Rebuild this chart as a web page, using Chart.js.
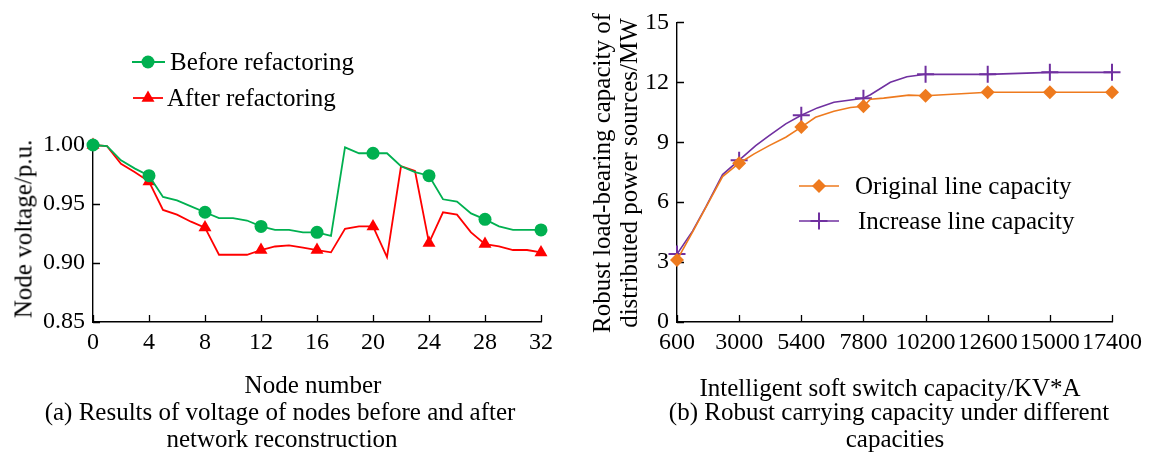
<!DOCTYPE html>
<html>
<head>
<meta charset="utf-8">
<script src="https://cdn.jsdelivr.net/npm/chart.js@4/dist/chart.umd.min.js"></script>
<style>
  html, body { margin: 0; padding: 0; background: #fff; }
  #wrap { position: relative; width: 1159px; height: 453px; overflow: hidden;
          font-family: 'Liberation Serif', 'Times New Roman', serif; color: #000; }
  canvas { position: absolute; top: 0; }
  .t { position: absolute; white-space: nowrap; font-size: 25px; line-height: 1;
       transform: translate(-50%, -50%); }
  .r { transform: translate(-50%, -50%) rotate(-90deg); }
</style>
</head>
<body>
<div id="wrap">
  <canvas id="volt" width="600" height="453" style="left:0"></canvas>
  <canvas id="cap" width="599" height="453" style="left:560px"></canvas>

  <div class="t r" style="left:23px; top:229px">Node voltage/p.u.</div>
  <div class="t" style="left:313px; top:384px">Node number</div>
  <div class="t" style="left:280px; top:411px">(a) Results of voltage of nodes before and after</div>
  <div class="t" style="left:282px; top:438px">network reconstruction</div>

  <div class="t r" style="left:601px; top:173px">Robust load-bearing capacity of</div>
  <div class="t r" style="left:628px; top:173px">distributed power sources/MW</div>
  <div class="t" style="left:890px; top:387px">Intelligent soft switch capacity/KV*A</div>
  <div class="t" style="left:889px; top:411px">(b) Robust carrying capacity under different</div>
  <div class="t" style="left:895px; top:438px">capacities</div>
</div>

<script>
// ---- (a) node voltage profile ----
const nodes = [0, 1, 2, 3, 4, 5, 6, 7, 8, 9, 10, 11, 12, 13, 14, 15, 16,
               17, 18, 19, 20, 21, 22, 23, 24, 25, 26, 27, 28, 29, 30, 31, 32];
const voltageBefore = [1.000, 0.999, 0.987, 0.980, 0.974, 0.956, 0.953, 0.948, 0.943,
                       0.938, 0.938, 0.936, 0.931, 0.928, 0.928, 0.926, 0.926, 0.923,
                       0.998, 0.993, 0.993, 0.993, 0.982, 0.977, 0.974, 0.954, 0.952,
                       0.942, 0.937, 0.931, 0.928, 0.928, 0.928];
const voltageAfter = [1.000, 0.999, 0.984, 0.977, 0.969, 0.945, 0.941, 0.935, 0.930,
                      0.907, 0.907, 0.907, 0.911, 0.914, 0.915, 0.913, 0.911, 0.909,
                      0.929, 0.931, 0.931, 0.905, 0.982, 0.978, 0.917, 0.943, 0.941,
                      0.926, 0.916, 0.914, 0.911, 0.911, 0.909];
const nodeTicks = [0, 4, 8, 12, 16, 20, 24, 28, 32];
const voltTicks = [0.85, 0.90, 0.95, 1.00];

// ---- (b) robust carrying capacity ----
const capacityTicks = [600, 3000, 5400, 7800, 10200, 12600, 15000, 17400];
const originalCap = [600, 1200, 1720, 2360, 3000, 3580, 4160, 4800, 5400, 5950, 6660,
                     7300, 7800, 8070, 8580, 9550, 10200, 12600, 15000, 17400];
const originalLoad = [3.10, 4.50, 5.75, 7.28, 7.95, 8.42, 8.83, 9.25, 9.76, 10.25, 10.55,
                      10.74, 10.80, 11.15, 11.21, 11.36, 11.33, 11.50, 11.50, 11.50];
const increasedCap = [600, 1200, 1720, 2360, 3000, 3640, 4160, 4800, 5400, 6020, 6660,
                      7800, 8070, 8840, 9480, 10200, 12600, 15000, 17400];
const increasedLoad = [3.40, 4.55, 5.78, 7.38, 8.10, 8.83, 9.33, 9.92, 10.35, 10.72, 11.00,
                       11.20, 11.38, 12.00, 12.28, 12.40, 12.40, 12.50, 12.50];
const loadTicks = [0, 3, 6, 9, 12, 15];

const GREEN = '#00B050', RED = '#FF0000', ORANGE = '#EE7A1E', PURPLE = '#7030A0';
const FONT = "'Liberation Serif', 'Times New Roman', serif";

Chart.defaults.font.family = FONT;
Chart.defaults.color = '#000';

function pts(xs, ys) { return xs.map((x, i) => ({ x: x, y: ys[i] })); }

// marker shapes shared by the legend samples
function drawMarker(ctx, style, x, y, r, color, lw) {
  ctx.save();
  ctx.fillStyle = color; ctx.strokeStyle = color; ctx.lineWidth = lw || 1;
  ctx.beginPath();
  if (style === 'circle') {
    ctx.arc(x, y, r, 0, Math.PI * 2); ctx.fill();
  } else if (style === 'triangle') {
    for (let k = 0; k < 3; k++) {
      const a = k * 2 * Math.PI / 3;
      const px = x + Math.sin(a) * r, py = y - Math.cos(a) * r;
      k ? ctx.lineTo(px, py) : ctx.moveTo(px, py);
    }
    ctx.closePath(); ctx.fill();
  } else if (style === 'rectRot') {
    ctx.moveTo(x, y - r); ctx.lineTo(x + r, y); ctx.lineTo(x, y + r); ctx.lineTo(x - r, y);
    ctx.closePath(); ctx.fill();
  } else if (style === 'cross') {
    ctx.moveTo(x - r, y); ctx.lineTo(x + r, y); ctx.moveTo(x, y - r); ctx.lineTo(x, y + r);
    ctx.stroke();
  }
  ctx.restore();
}

// legend: short line with marker, then the label
const lineLegend = {
  id: 'lineLegend',
  afterDraw(chart, args, opts) {
    const ctx = chart.ctx;
    (opts.items || []).forEach(it => {
      const ds = chart.data.datasets[it.dataset];
      ctx.save();
      ctx.strokeStyle = ds.borderColor; ctx.lineWidth = ds.borderWidth;
      ctx.beginPath(); ctx.moveTo(it.x1, it.y); ctx.lineTo(it.x2, it.y); ctx.stroke();
      ctx.restore();
      drawMarker(ctx, ds.pointStyle, it.mx, it.y, it.r, ds.borderColor, it.lw);
      ctx.save();
      ctx.fillStyle = '#000'; ctx.font = '25px ' + FONT;
      ctx.textBaseline = 'middle'; ctx.textAlign = 'left';
      ctx.fillText(ds.label, it.tx, it.y + 1);
      ctx.restore();
    });
  }
};

// short tick marks pointing into the plot
const innerTicks = {
  id: 'innerTicks',
  beforeDatasetsDraw(chart, args, opts) {
    const ctx = chart.ctx, a = chart.chartArea, len = opts.length || 7;
    ctx.save();
    ctx.strokeStyle = '#000'; ctx.lineWidth = 1.3;
    ctx.beginPath();
    const xs = chart.scales.x, ys = chart.scales.y;
    xs.ticks.forEach(t => {
      const px = Math.round(xs.getPixelForValue(t.value)) + 0.5;
      ctx.moveTo(px, a.bottom); ctx.lineTo(px, a.bottom - len);
    });
    ys.ticks.forEach(t => {
      const py = Math.round(ys.getPixelForValue(t.value)) + 0.5;
      ctx.moveTo(a.left, py); ctx.lineTo(a.left + len, py);
    });
    ctx.stroke();
    ctx.restore();
  }
};

function fixedSize(w, h) {
  return function (scale) {
    if (w !== undefined) scale.width = w;
    if (h !== undefined) scale.height = h;
  };
}

function tickList(values) {
  return function (scale) { scale.ticks = values.map(v => ({ value: v })); };
}

// ---------- chart (a) ----------
new Chart(document.getElementById('volt'), {
  type: 'line',
  data: {
    datasets: [
      {
        label: 'Before refactoring',
        data: pts(nodes, voltageBefore),
        borderColor: GREEN, backgroundColor: GREEN, borderWidth: 1.8,
        pointStyle: 'circle', pointBorderWidth: 0,
        pointRadius: c => (nodeTicks.includes(c.raw.x) ? 6.5 : 0),
        tension: 0, clip: false
      },
      {
        label: 'After refactoring',
        data: pts(nodes, voltageAfter),
        borderColor: RED, backgroundColor: RED, borderWidth: 1.8,
        pointStyle: 'triangle', pointBorderWidth: 0,
        pointRadius: c => (nodeTicks.includes(c.raw.x) ? 7.5 : 0),
        tension: 0, clip: false
      }
    ]
  },
  options: {
    responsive: false, animation: false,
    layout: { padding: { left: 0, top: 145, right: 59, bottom: 0 } },
    plugins: {
      legend: { display: false }, tooltip: { enabled: false },
      lineLegend: { items: [
        { dataset: 0, x1: 132, x2: 165, mx: 148, y: 62, r: 6.5, tx: 170 },
        { dataset: 1, x1: 133, x2: 163, mx: 148, y: 98, r: 7.5, tx: 167 }
      ] },
      innerTicks: { length: 7 }
    },
    scales: {
      x: {
        type: 'linear', min: 0, max: 32,
        afterBuildTicks: tickList(nodeTicks),
        afterFit: fixedSize(undefined, 131),
        grid: { display: false, drawTicks: false },
        border: { display: true, color: '#000', width: 1.4 },
        ticks: { font: { size: 24 }, padding: 6, maxRotation: 0, autoSkip: false }
      },
      y: {
        type: 'linear', min: 0.85, max: 1.0,
        afterBuildTicks: tickList(voltTicks),
        afterFit: fixedSize(93, undefined),
        grid: { display: false, drawTicks: false },
        border: { display: true, color: '#000', width: 1.4 },
        ticks: { font: { size: 24 }, padding: 8, callback: v => v.toFixed(2) }
      }
    }
  },
  plugins: [innerTicks, lineLegend]
});

// ---------- chart (b) ----------
new Chart(document.getElementById('cap'), {
  type: 'line',
  data: {
    datasets: [
      {
        label: 'Original line capacity',
        data: pts(originalCap, originalLoad),
        borderColor: ORANGE, backgroundColor: ORANGE, borderWidth: 1.6,
        pointStyle: 'rectRot', pointBorderWidth: 0,
        pointRadius: c => (capacityTicks.includes(c.raw.x) ? 7 : 0),
        tension: 0, clip: false
      },
      {
        label: 'Increase line capacity',
        data: pts(increasedCap, increasedLoad),
        borderColor: PURPLE, backgroundColor: PURPLE, borderWidth: 1.6,
        pointStyle: 'cross', pointBorderWidth: 2, pointBorderColor: PURPLE,
        pointRadius: c => (capacityTicks.includes(c.raw.x) ? 8.5 : 0),
        tension: 0, clip: false
      }
    ]
  },
  options: {
    responsive: false, animation: false,
    layout: { padding: { left: 0, top: 20, right: 47, bottom: 0 } },
    plugins: {
      legend: { display: false }, tooltip: { enabled: false },
      lineLegend: { items: [
        { dataset: 0, x1: 799 - 560, x2: 839 - 560, mx: 819 - 560, y: 186, r: 7, tx: 855 - 560 },
        { dataset: 1, x1: 799 - 560, x2: 839 - 560, mx: 819 - 560, y: 221, r: 8.5, lw: 2, tx: 858 - 560 }
      ] },
      innerTicks: { length: 7 }
    },
    scales: {
      x: {
        type: 'linear', min: 600, max: 17400,
        afterBuildTicks: tickList(capacityTicks),
        afterFit: fixedSize(undefined, 131),
        grid: { display: false, drawTicks: false },
        border: { display: true, color: '#000', width: 1.4 },
        ticks: { font: { size: 24 }, padding: 6, maxRotation: 0, minRotation: 0, autoSkip: false,
                 callback: v => String(v) }
      },
      y: {
        type: 'linear', min: 0, max: 15,
        afterBuildTicks: tickList(loadTicks),
        afterFit: fixedSize(117, undefined),
        grid: { display: false, drawTicks: false },
        border: { display: true, color: '#000', width: 1.4 },
        ticks: { font: { size: 24 }, padding: 8 }
      }
    }
  },
  plugins: [innerTicks, lineLegend]
});
</script>
</body>
</html>
